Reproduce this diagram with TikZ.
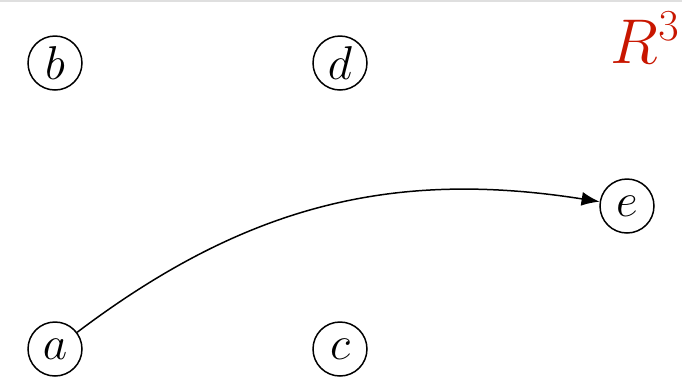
\RequirePackage{fix-cm}
\documentclass[tikz,border=0pt]{standalone}
\usepackage{amsmath, amssymb}
\usepackage{xcolor}
\usepackage{tikz}
\usetikzlibrary{arrows.meta}
\definecolor{tagred}{RGB}{200,22,0}

\begin{document}
\begin{tikzpicture}[scale=1,
    vertex/.style={circle, draw, line width=0.85pt, inner sep=0pt, minimum size=1.08cm,
        font=\fontsize{27}{30}\selectfont}]
    \useasboundingbox (0,0) rectangle (13.64,7.52);
    % Bordo superiore
    \draw[gray!25, line width=1pt] (0,7.5) -- (13.64,7.5);

    % Vertici
    \node[vertex] (b) at (1.1,6.26) {$b$};
    \node[vertex] (d) at (6.8,6.26) {$d$};
    \node[vertex] (e) at (12.54,3.4) {$e$};
    \node[vertex] (a) at (1.1,0.54) {$a$};
    \node[vertex] (c) at (6.8,0.54) {$c$};

    % Arco a -> e
    \draw[-{Latex[length=0.36cm, width=0.28cm]}, line width=0.85pt] (a) to[bend left=23] (e);

    % Etichetta
    \node[tagred, anchor=base east, inner sep=0pt, font=\fontsize{36}{40}\selectfont]
        (tag) at (13.6,6.26) {$R^3$};
\end{tikzpicture}
\end{document}
